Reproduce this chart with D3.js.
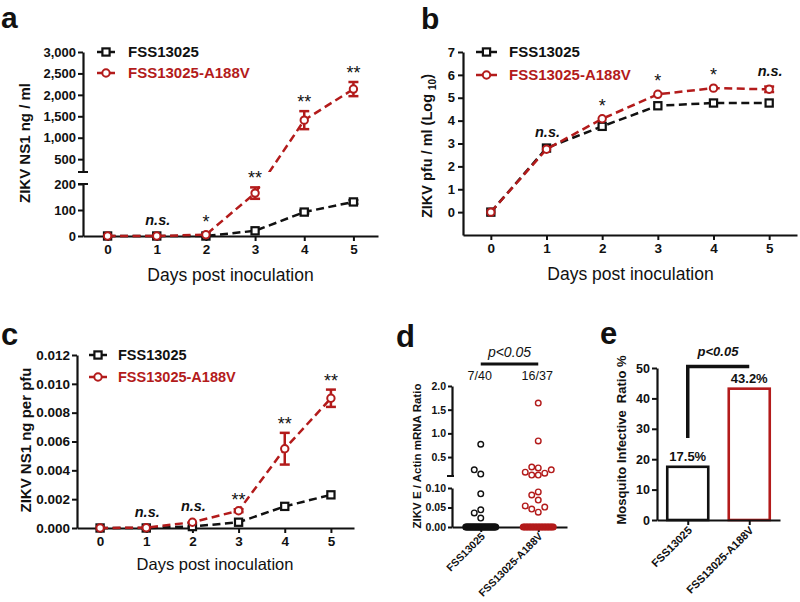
<!DOCTYPE html>
<html><head><meta charset="utf-8">
<script src="https://cdn.jsdelivr.net/npm/d3@7"></script>
<style>body{margin:0;background:#fff}svg{display:block}</style>
</head><body><svg id="chart" width="800" height="602"></svg>
<script>
// ---------------- DATA ----------------
const days = [0, 1, 2, 3, 4, 5];
const seriesNames = ["FSS13025", "FSS13025-A188V"];

// panel a: ZIKV NS1 ng / ml
const aBlack = [0, 0, 0, 20, 92, 131];
const aBlackErr = [0, 0, 0, 0, 6, 7];
const aRed = [0, 0, 5, 165, 1410, 2135];
const aRedErr = [0, 0, 0, 22, 210, 165];
const aSig = ["", "n.s.", "*", "**", "**", "**"];
const aTicksLow = [0, 100, 200];
const aTicksUp = [500, 1000, 1500, 2000, 2500, 3000];

// panel b: ZIKV pfu / ml (log10)
const bBlack = [0, 2.8, 3.75, 4.65, 4.77, 4.77];
const bBlackErr = [0, 0, 0, 0, 0, 0];
const bRed = [0, 2.75, 4.08, 5.15, 5.42, 5.37];
const bRedErr = [0, 0, 0, 0, 0, 0.12];
const bSig = ["", "n.s.", "*", "*", "*", "n.s."];
const bTicks = [0, 1, 2, 3, 4, 5, 6, 7];

// panel c: ZIKV NS1 ng per pfu
const cBlack = [0, 0, 0.0001, 0.0004, 0.0015, 0.0023];
const cBlackErr = [0, 0, 0, 0, 0, 0];
const cRed = [0, 0.00002, 0.0004, 0.0012, 0.0055, 0.0090];
const cRedErr = [0, 0, 0, 0.0001, 0.0011, 0.0006];
const cSig = ["", "n.s.", "n.s.", "**", "**", "**"];
const cTicks = [0, 0.002, 0.004, 0.006, 0.008, 0.010, 0.012];

// panel d: ZIKV E / Actin mRNA ratio (individual mosquitoes)
const dBlackPositive = [0.77, 0.23, 0.14, 0.085, 0.044, 0.036, 0.023];
const dBlackTotal = 40;
const dRedPositive = [1.64, 0.84, 0.29, 0.27, 0.23, 0.18, 0.16, 0.12, 0.12, 0.09, 0.082, 0.069, 0.054, 0.051, 0.046, 0.038];
const dRedTotal = 37;
const dFractions = ["7/40", "16/37"];
const dTicksLow = [0, 0.05, 0.10];
const dTicksUp = [0.5, 1.0, 1.5, 2.0];

// panel e: mosquito infective ratio %
const eValues = [17.5, 43.2];
const eLabels = ["17.5%", "43.2%"];
const eTicks = [0, 10, 20, 30, 40, 50];
const pText = "p<0.05";

// ---------------- STYLE ----------------
const BLK = "#111", RED = "#b31b1b";
const FONT = '"Liberation Sans", Arial, Helvetica, sans-serif';
const svg = d3.select("#chart").attr("font-family", FONT);

function styleAxis(g, fs) {
  g.attr("font-family", FONT).attr("font-size", fs).attr("font-weight", "bold");
  g.select(".domain").attr("stroke", BLK).attr("stroke-width", 2.2);
  g.selectAll(".tick line").attr("stroke", BLK).attr("stroke-width", 2);
  g.selectAll(".tick text").attr("fill", BLK);
  return g;
}
function leftAxis(x, scale, ticks, fmt, fs, size = 5, pad = 2) {
  return styleAxis(svg.append("g").attr("transform", `translate(${x},0)`)
    .call(d3.axisLeft(scale).tickValues(ticks).tickFormat(fmt).tickSize(size).tickSizeOuter(0).tickPadding(pad)), fs);
}
function bottomAxis(y, scale, ticks, fmt, fs, pad = 3) {
  const ax = d3.axisBottom(scale).tickSize(5).tickSizeOuter(0).tickPadding(pad);
  if (ticks) ax.tickValues(ticks);
  if (fmt) ax.tickFormat(fmt);
  return styleAxis(svg.append("g").attr("transform", `translate(0,${y})`).call(ax), fs);
}
function hline(x1, x2, y, w = 2.2) {
  svg.append("line").attr("x1", x1).attr("x2", x2).attr("y1", y).attr("y2", y).attr("stroke", BLK).attr("stroke-width", w);
}
function panelLabel(t, x, y, fs = 31) {
  svg.append("text").attr("x", x).attr("y", y).text(t).attr("font-size", fs).attr("font-weight", "bold").attr("fill", BLK);
}
function yLabel(t, x, y, fs) {
  return svg.append("text").attr("transform", `translate(${x},${y}) rotate(-90)`).attr("text-anchor", "middle")
    .attr("font-size", fs).attr("font-weight", "bold").attr("fill", BLK).text(t);
}
function xTitle(x, y, fs) {
  svg.append("text").attr("x", x).attr("y", y).attr("text-anchor", "middle").attr("font-size", fs).attr("fill", BLK).text("Days post inoculation");
}
function marker(g, shape, x, y, color) {
  if (shape === "square") {
    g.append("rect").attr("x", x - 3.6).attr("y", y - 3.6).attr("width", 7.2).attr("height", 7.2)
      .attr("fill", "#fff").attr("stroke", color).attr("stroke-width", 2.2);
  } else {
    g.append("circle").attr("cx", x).attr("cy", y).attr("r", 3.7)
      .attr("fill", "#fff").attr("stroke", color).attr("stroke-width", 2);
  }
}
function legend(x0, y0, dy, len, textOff, fs) {
  seriesNames.forEach((n, i) => {
    const color = i === 0 ? BLK : RED, y = y0 + i * dy;
    svg.append("line").attr("x1", x0).attr("x2", x0 + len).attr("y1", y).attr("y2", y).attr("stroke", color).attr("stroke-width", 2.5);
    marker(svg, i === 0 ? "square" : "circle", x0 + len / 2, y, color);
    svg.append("text").attr("x", x0 + textOff).attr("y", y + fs * 0.36).attr("font-size", fs).attr("font-weight", "bold")
      .attr("fill", color).text(n);
  });
}
function series(xs, yfn, vals, errs, color, shape, clip) {
  const g = svg.append("g");
  const lg = g.append("g");
  if (clip) lg.attr("clip-path", `url(#${clip})`);
  lg.append("path").datum(days.map((d, i) => [xs(d), yfn(vals[i])]))
    .attr("d", d3.line()).attr("fill", "none").attr("stroke", color).attr("stroke-width", 2.5).attr("stroke-dasharray", "8,4.5");
  days.forEach((d, i) => {
    if (errs[i] > 0) {
      const x = xs(d), y1 = yfn(vals[i] + errs[i]), y2 = yfn(Math.max(0, vals[i] - errs[i]));
      g.append("line").attr("x1", x).attr("x2", x).attr("y1", y1).attr("y2", y2).attr("stroke", color).attr("stroke-width", 2.5);
      [y1, y2].forEach(yy => g.append("line").attr("x1", x - 5).attr("x2", x + 5).attr("y1", yy).attr("y2", yy).attr("stroke", color).attr("stroke-width", 2.5));
    }
    marker(g, shape, xs(d), yfn(vals[i]), color);
  });
}
function sigMarks(xs, yfn, sig, bv, be, rv, re) {
  days.forEach((d, i) => {
    if (!sig[i]) return;
    const topV = Math.max(bv[i] + be[i], rv[i] + re[i]);
    const hasErr = (rv[i] + re[i] >= bv[i] + be[i] ? re[i] : be[i]) > 0;
    const top = yfn(topV);
    const ns = sig[i] === "n.s.";
    const base = ns ? top - 11 : top - (hasErr ? 3 : 7);
    svg.append("text").attr("x", xs(d) + (ns ? 1 : 0)).attr("y", base).attr("text-anchor", "middle")
      .attr("font-size", ns ? 14.5 : 18).attr("font-weight", ns ? "bold" : "normal").attr("font-style", ns ? "italic" : "normal")
      .attr("fill", BLK).text(sig[i]);
  });
}

// ---------------- PANEL A ----------------
const xA = d3.scaleLinear([-0.5, 5.5], [83, 378]);
const yAlow = d3.scaleLinear([0, 200], [236, 184]);
const yAup = d3.scaleLinear([200, 3000], [172, 52]);
const yA = v => v <= 200 ? yAlow(v) : yAup(v);
const defs = svg.append("defs");
const clipA = defs.append("clipPath").attr("id", "clipA");
clipA.append("rect").attr("x", 0).attr("y", 0).attr("width", 400).attr("height", yAup(200));
clipA.append("rect").attr("x", 0).attr("y", yAlow(200)).attr("width", 400).attr("height", 300 - yAlow(200));

panelLabel("a", 1, 28, 30);
leftAxis(xA(-0.5), yAlow, aTicksLow, d3.format(","), 13);
leftAxis(xA(-0.5), yAup, aTicksUp, d3.format(","), 13);
hline(xA(-0.5) - 5, xA(-0.5) + 5, yAup(200), 2);
hline(xA(-0.5) - 5, xA(-0.5) + 5, yAlow(200), 2);
bottomAxis(yAlow(0), xA, days, d3.format("d"), 13.5);
yLabel("ZIKV NS1 ng / ml", 30, 143, 15);
xTitle(230.5, 281, 17.5);
series(xA, yA, aBlack, aBlackErr, BLK, "square");
series(xA, yA, aRed, aRedErr, RED, "circle", "clipA");
sigMarks(xA, yA, aSig, aBlack, aBlackErr, aRed, aRedErr);
legend(97, yAup(3000), 21, 18, 31, 15);

// ---------------- PANEL B ----------------
const xB = d3.scaleLinear([-0.5, 5.5], [463, 797]);
const yB = d3.scaleLinear([-1, 7], [235, 52]);
panelLabel("b", 421, 29, 30);
styleAxis(svg.append("g").attr("transform", `translate(${xB(-0.5)},0)`)
  .call(d3.axisLeft(yB).tickValues(bTicks).tickFormat(d3.format("d")).tickSize(5).tickSizeOuter(0).tickPadding(3)), 13);
bottomAxis(yB(-1), xB, days, d3.format("d"), 13.5);
const ylb = yLabel("", 432, 146, 14.5);
ylb.append("tspan").text("ZIKV pfu / ml (Log ");
ylb.append("tspan").attr("font-size", 10).attr("dy", 4).text("10");
ylb.append("tspan").attr("dy", -4).text(")");
xTitle(630.5, 280, 17.5);
series(xB, yB, bBlack, bBlackErr, BLK, "square");
series(xB, yB, bRed, bRedErr, RED, "circle");
sigMarks(xB, yB, bSig, bBlack, bBlackErr, bRed, bRedErr);
legend(476, yB(7), 23, 21, 33, 15);

// ---------------- PANEL C ----------------
const xC = d3.scaleLinear([-0.5, 5.5], [77, 354]);
const yC = d3.scaleLinear([0, 0.012], [528, 355]);
panelLabel("c", 1, 345);
leftAxis(xC(-0.5), yC, cTicks, d3.format(".3f"), 13.5);
bottomAxis(yC(0), xC, days, d3.format("d"), 13.5);
yLabel("ZIKV NS1 ng per pfu", 31, 440, 15);
xTitle(215, 570, 16.5);
series(xC, yC, cBlack, cBlackErr, BLK, "square");
series(xC, yC, cRed, cRedErr, RED, "circle");
sigMarks(xC, yC, cSig, cBlack, cBlackErr, cRed, cRedErr);
legend(89, yC(0.012), 22, 18, 29, 14.5);

// ---------------- PANEL D ----------------
const xD = d3.scalePoint(seriesNames, [452, 567]).padding(0.5);
const yDlow = d3.scaleLinear([0, 0.1], [527, 488]);
const yDup = d3.scaleLinear([0.1, 2.0], [476, 386]);
const yD = v => v <= 0.1 ? yDlow(v) : yDup(v);
panelLabel("d", 396, 347);
leftAxis(452, yDlow, dTicksLow, d3.format(".2f"), 10.5, 4, 2);
leftAxis(452, yDup, dTicksUp, d3.format(".1f"), 10.5, 4, 2);
hline(447, 454, yDup(0.1), 2);
styleAxis(svg.append("g").attr("transform", `translate(0,${yDlow(0)})`)
  .call(d3.axisBottom(xD).tickSize(5).tickSizeOuter(0).tickFormat("")), 10.5);
svg.append("g").attr("transform", `translate(0,${yDlow(0)})`).selectAll("text").data(seriesNames).join("text")
  .attr("transform", d => `translate(${xD(d) + 5},10) rotate(-45)`).attr("text-anchor", "end")
  .attr("font-size", 10.5).attr("font-weight", "bold").attr("fill", BLK).text(d => d);
yLabel("ZIKV E / Actin mRNA Ratio", 421, 456, 11.5);

function swarm(vals, cx, step, thr) {
  const placed = [], order = [0, -1, 1, -2, 2, -3, 3, -4, 4];
  return vals.slice().sort((a, b) => a - b).map(v => {
    const y = yD(v);
    for (const c of order) {
      if (!placed.some(p => p.col === c && Math.abs(p.y - y) < thr)) { placed.push({ col: c, y }); return { x: cx + c * step, y, z: false }; }
    }
    return { x: cx, y, z: false };
  });
}
[[dBlackPositive, dBlackTotal, BLK], [dRedPositive, dRedTotal, RED]].forEach(([pos, total, color], gi) => {
  const cx = xD(seriesNames[gi]);
  const g = svg.append("g");
  const nz = total - pos.length;
  const zeros = d3.range(nz).map(i => ({ x: cx - 15 + i * 30 / (nz - 1), y: yD(0), z: true }));
  const pts = zeros.concat(swarm(pos, cx, 6.5, 6.5));
  g.selectAll("circle").data(pts).join("circle").attr("cx", d => d.x).attr("cy", d => d.y).attr("r", 2.8)
    .attr("fill", d => d.z ? color : "#fff").attr("stroke", color).attr("stroke-width", 1.4);
  svg.append("text").attr("x", cx - 1).attr("y", 380).attr("text-anchor", "middle").attr("font-size", 12.5).attr("fill", BLK).text(dFractions[gi]);
});
hline(xD(seriesNames[0]), xD(seriesNames[1]), 364, 3);
svg.append("text").attr("x", (xD(seriesNames[0]) + xD(seriesNames[1])) / 2).attr("y", 357).attr("text-anchor", "middle")
  .attr("font-size", 14).attr("font-style", "italic").attr("fill", BLK).text(pText);

// ---------------- PANEL E ----------------
const xE = d3.scalePoint(seriesNames, [657, 780]).padding(0.5);
const yE = d3.scaleLinear([0, 50], [520, 368]);
const barW = xE.step() * 2 / 3;
panelLabel("e", 600, 344);
svg.append("g").selectAll("rect").data(eValues).join("rect")
  .attr("x", (d, i) => xE(seriesNames[i]) - barW / 2).attr("y", d => yE(d))
  .attr("width", barW).attr("height", d => yE(0) - yE(d))
  .attr("fill", "#fff").attr("stroke", (d, i) => i === 0 ? BLK : RED).attr("stroke-width", 2.6);
leftAxis(657, yE, eTicks, d3.format("d"), 12.5, 5, 2);
styleAxis(svg.append("g").attr("transform", `translate(0,${yE(0)})`)
  .call(d3.axisBottom(xE).tickSize(5).tickSizeOuter(0).tickFormat("")), 11);
svg.append("g").attr("transform", `translate(0,${yE(0)})`).selectAll("text").data(seriesNames).join("text")
  .attr("transform", d => `translate(${xE(d) + 5},11) rotate(-45)`).attr("text-anchor", "end")
  .attr("font-size", 11).attr("font-weight", "bold").attr("fill", BLK).text(d => d);
svg.append("g").selectAll("text").data(eValues).join("text")
  .attr("x", (d, i) => xE(seriesNames[i])).attr("y", d => yE(d) - 6).attr("text-anchor", "middle")
  .attr("font-size", 13).attr("font-weight", "bold").attr("fill", BLK).text((d, i) => eLabels[i]);
svg.append("path")
  .attr("d", `M${xE(seriesNames[0])},${yE(eValues[0] + 9.5)}V${yE(50.5)}H${xE(seriesNames[1])}`)
  .attr("fill", "none").attr("stroke", BLK).attr("stroke-width", 3.5);
svg.append("text").attr("x", 718).attr("y", 356).attr("text-anchor", "middle")
  .attr("font-size", 13).attr("font-weight", "bold").attr("font-style", "italic").attr("fill", BLK).text(pText);
yLabel("Mosquito Infective\u00a0 Ratio %", 626, 440, 13);
</script></body></html>
